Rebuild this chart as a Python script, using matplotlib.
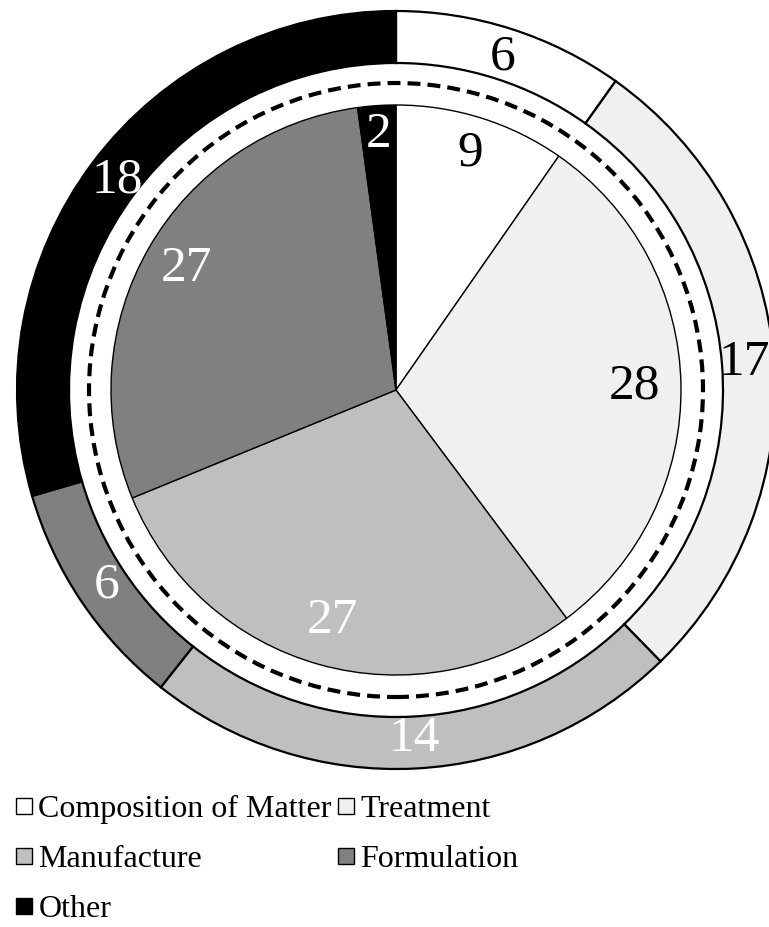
import matplotlib.pyplot as plt
import numpy as np
from matplotlib.lines import Line2D

# Dados
categorias = ['Composition of Matter', 'Treatment', 'Manufacture', 'Formulation', 'Other']
anel_externo = [6, 17, 14, 6, 18]
pizza_interna = [9, 28, 27, 27, 2]

cores = ['#ffffff', '#f0f0f0', '#bfbfbf', '#808080', '#000000']
cores_texto = ['black', 'black', 'white', 'white', 'white']

plt.rcParams['font.family'] = ['Liberation Serif', 'DejaVu Serif']

# Figura em pixels: 1 unidade = 1 px
fig = plt.figure(figsize=(7.69, 9.27), dpi=100)
ax = fig.add_axes([0, 0, 1, 1])

R = 379        # raio externo do anel
largura = 52   # largura do anel
r_trac = 307   # circulo tracejado
r_int = 285    # raio da pizza interna

# Anel externo
fatias_ext, _ = ax.pie(anel_externo, radius=R, colors=cores, startangle=90,
                       counterclock=False,
                       wedgeprops=dict(width=largura, edgecolor='black', linewidth=1.6))

# Pizza interna
fatias_int, _ = ax.pie(pizza_interna, radius=r_int, colors=cores, startangle=90,
                       counterclock=False,
                       wedgeprops=dict(edgecolor='black', linewidth=1.0))

# Circulo tracejado
ax.add_patch(plt.Circle((0, 0), r_trac, fill=False, color='black',
                        linewidth=3, linestyle=(0, (3.1, 1.7))))

# Rotulos
dist_int = [248, 239, 239, 242, 256]
for w, v, c, d in zip(fatias_int, pizza_interna, cores_texto, dist_int):
    ang = np.deg2rad((w.theta1 + w.theta2) / 2)
    ax.text(d * np.cos(ang), d * np.sin(ang), str(v), color=c, fontsize=37,
            ha='center', va='center')

for w, v, c in zip(fatias_ext, anel_externo, cores_texto):
    ang = np.deg2rad((w.theta1 + w.theta2) / 2)
    d = R - largura / 2 - 4
    ax.text(d * np.cos(ang), d * np.sin(ang), str(v), color=c, fontsize=37,
            ha='center', va='center')

ax.set_xlim(-396, 373)
ax.set_ylim(-537, 390)
ax.set_aspect('equal')
ax.axis('off')

# Legenda (ordem por linhas)
ordem = [0, 2, 4, 1, 3]
handles = [Line2D([], [], linestyle='none', marker='s', markersize=12,
                  markerfacecolor=cores[i], markeredgecolor='black',
                  markeredgewidth=1.0) for i in ordem]
labels = [categorias[i] for i in ordem]
fig.legend(handles, labels, ncol=2, loc='upper left',
           bbox_to_anchor=(-8 / 769, 1 - 772 / 927), frameon=False,
           fontsize=23, handlelength=0.6, handletextpad=0.15,
           columnspacing=0.15, labelspacing=0.65, borderpad=0.2)

plt.savefig('out.png', dpi=100)
